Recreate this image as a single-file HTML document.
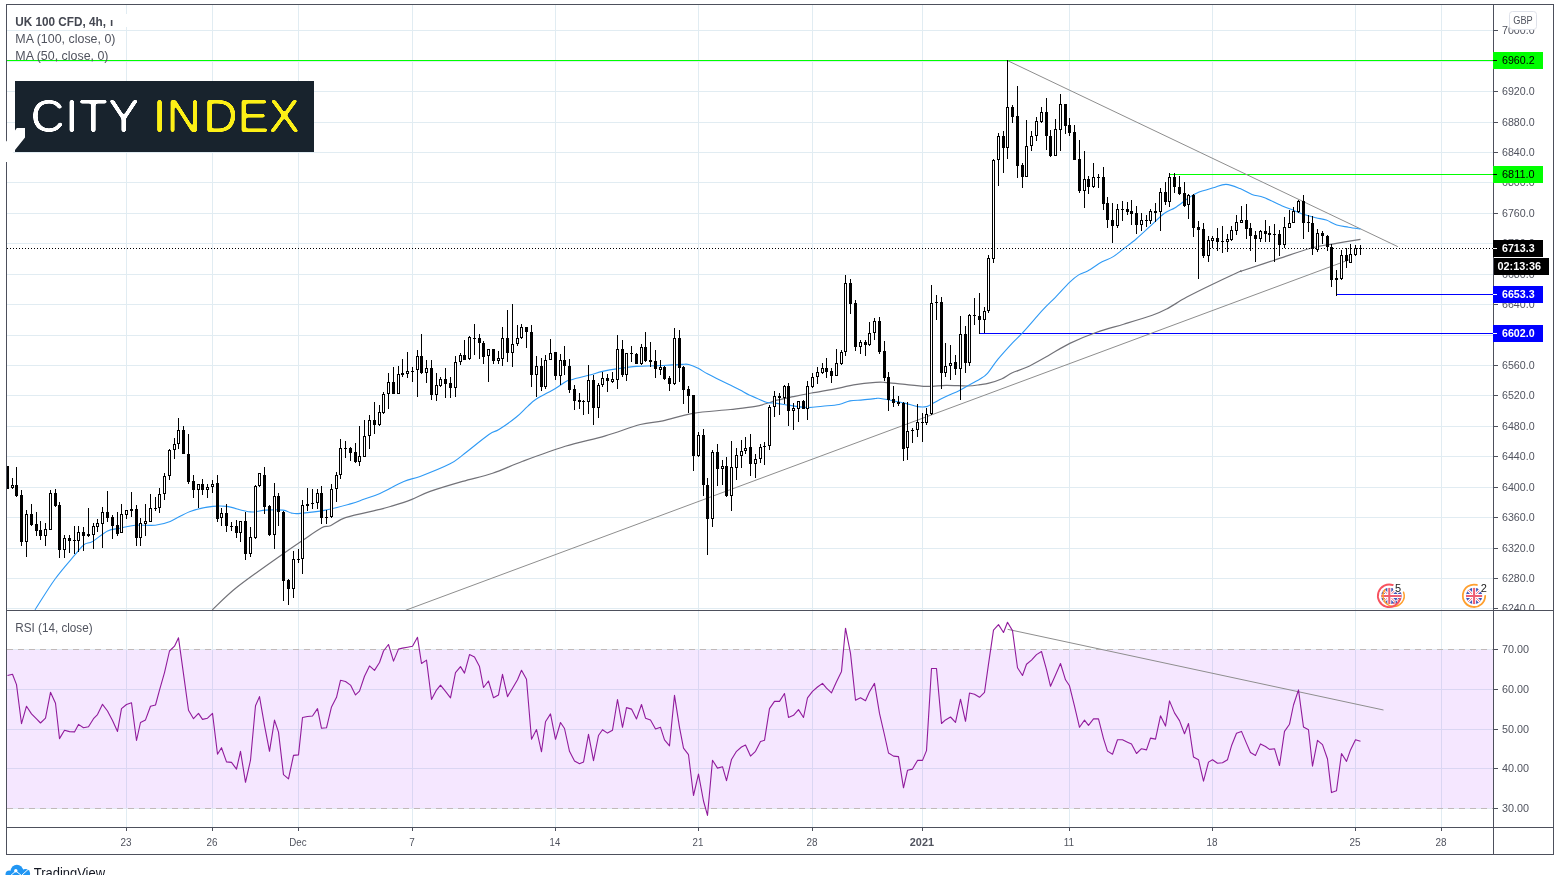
<!DOCTYPE html>
<html lang="en"><head><meta charset="utf-8"><title>UK 100 CFD, 4h</title>
<style>html,body{margin:0;padding:0;background:#fff;overflow:hidden}svg{display:block}</style></head>
<body>
<svg width="1560" height="875" viewBox="0 0 1560 875" font-family="'Liberation Sans', sans-serif">
<rect width="1560" height="875" fill="#fff"/>
<g shape-rendering="crispEdges" fill="#e1ecf2">
<rect x="126" y="5" width="1" height="822"/>
<rect x="212" y="5" width="1" height="822"/>
<rect x="298" y="5" width="1" height="822"/>
<rect x="412" y="5" width="1" height="822"/>
<rect x="555" y="5" width="1" height="822"/>
<rect x="698" y="5" width="1" height="822"/>
<rect x="812" y="5" width="1" height="822"/>
<rect x="922" y="5" width="1" height="822"/>
<rect x="1069" y="5" width="1" height="822"/>
<rect x="1212" y="5" width="1" height="822"/>
<rect x="1355" y="5" width="1" height="822"/>
<rect x="1441" y="5" width="1" height="822"/>
<rect x="7" y="30" width="1486" height="1"/>
<rect x="7" y="61" width="1486" height="1"/>
<rect x="7" y="91" width="1486" height="1"/>
<rect x="7" y="122" width="1486" height="1"/>
<rect x="7" y="152" width="1486" height="1"/>
<rect x="7" y="182" width="1486" height="1"/>
<rect x="7" y="213" width="1486" height="1"/>
<rect x="7" y="243" width="1486" height="1"/>
<rect x="7" y="274" width="1486" height="1"/>
<rect x="7" y="304" width="1486" height="1"/>
<rect x="7" y="335" width="1486" height="1"/>
<rect x="7" y="365" width="1486" height="1"/>
<rect x="7" y="395" width="1486" height="1"/>
<rect x="7" y="426" width="1486" height="1"/>
<rect x="7" y="456" width="1486" height="1"/>
<rect x="7" y="487" width="1486" height="1"/>
<rect x="7" y="517" width="1486" height="1"/>
<rect x="7" y="548" width="1486" height="1"/>
<rect x="7" y="578" width="1486" height="1"/>
<rect x="7" y="608" width="1486" height="1"/>
<rect x="7" y="689" width="1486" height="1"/>
<rect x="7" y="729" width="1486" height="1"/>
<rect x="7" y="768" width="1486" height="1"/>
</g>
<rect x="7" y="649.5" width="1486" height="159" fill="#9915ff" fill-opacity="0.1"/>
<g shape-rendering="crispEdges" fill="#e3eaf4"><rect x="7" y="649" width="1486" height="1"/><rect x="7" y="808" width="1486" height="1"/></g>
<g stroke="#c0b9b9" stroke-width="1" stroke-dasharray="6,5" shape-rendering="crispEdges"><line x1="7" y1="649.5" x2="1493" y2="649.5"/><line x1="7" y1="808.5" x2="1493" y2="808.5"/></g>
<g shape-rendering="crispEdges">
<rect x="7" y="60" width="1486" height="1" fill="#00ff00"/>
<rect x="1169" y="174" width="324" height="1" fill="#00ff00"/>
<rect x="1336" y="294" width="157" height="1" fill="#0000ff"/>
<rect x="979" y="333" width="514" height="1" fill="#0000ff"/>
</g>
<g stroke="#8e8e8e" stroke-width="1" fill="none">
<line x1="1007.5" y1="60.6" x2="1397.9" y2="246.7"/>
<line x1="405.5" y1="610.3" x2="1350.7" y2="259.2"/>
<line x1="1007.6" y1="629.3" x2="1383.5" y2="710"/>
</g>
<clipPath id="mainclip"><rect x="7" y="5" width="1486" height="605"/></clipPath>
<g clip-path="url(#mainclip)">
<path fill="none" stroke="#727278" stroke-width="1.2" stroke-linejoin="round" d="M212.3 609.8C216.6 605.9 226.0 595.8 237.8 586.5C249.6 577.2 272.0 561.6 282.9 553.9C293.8 546.2 296.4 544.6 302.9 540.2C309.4 535.8 317.1 530.1 321.7 527.7C326.3 525.3 326.4 527.4 330.4 525.7C334.3 524.0 337.1 520.3 345.4 517.6C353.7 514.9 372.1 511.3 380.0 509.4C387.9 507.4 387.3 507.5 392.5 505.9C397.7 504.3 405.0 502.0 411.3 499.6C417.6 497.2 421.6 494.4 430.1 491.4C438.7 488.4 452.2 484.4 462.6 481.4C473.0 478.4 482.6 476.6 492.6 473.3C502.6 470.0 510.6 465.8 522.7 461.3C534.8 456.8 551.4 450.6 565.2 446.3C579.0 442.1 592.8 439.4 605.3 435.8C617.8 432.2 630.7 427.0 640.3 424.5C649.9 422.0 654.1 422.7 662.9 420.8C671.7 418.9 681.6 415.2 692.9 413.3C704.1 411.4 720.0 410.7 730.4 409.5C740.8 408.3 748.9 407.5 755.5 406.3C762.1 405.1 766.8 403.4 770.0 402.5C773.2 401.6 771.1 401.7 775.0 400.7C778.9 399.7 787.2 398.0 793.3 396.7C799.4 395.4 804.0 394.4 811.6 393.0C819.2 391.6 832.0 389.5 839.0 388.1C846.0 386.7 847.5 385.8 853.6 384.8C859.7 383.9 870.4 382.8 875.6 382.4C880.8 382.0 880.2 382.1 884.7 382.4C889.2 382.7 895.6 383.5 902.6 384.2C909.6 384.9 919.3 386.2 926.5 386.4C933.7 386.6 939.1 385.4 946.0 385.3C952.9 385.2 962.0 386.1 967.7 386.0C973.4 385.9 976.5 385.2 980.0 384.7C983.5 384.2 985.4 384.1 989.0 383.1C992.6 382.2 997.6 380.7 1001.5 379.0C1005.4 377.3 1008.1 374.6 1012.3 372.7C1016.5 370.8 1020.7 370.1 1026.7 367.3C1032.7 364.5 1041.0 359.7 1048.2 355.7C1055.4 351.7 1061.7 347.3 1069.8 343.4C1077.9 339.5 1087.7 335.5 1096.7 332.3C1105.7 329.1 1114.3 327.0 1123.6 324.2C1132.9 321.4 1145.1 317.8 1152.3 315.3C1159.5 312.8 1161.0 312.0 1166.7 309.0C1172.4 306.0 1178.9 301.4 1186.4 297.3C1193.9 293.2 1202.6 289.0 1211.6 284.7C1220.6 280.4 1235.3 273.6 1240.3 271.3C1241.6 269.0 1240.3 272.9 1241.6 271.0C1247.3 269.1 1262.7 264.0 1274.3 260.2C1285.9 256.4 1301.5 250.7 1311.4 248.0C1321.3 245.3 1325.5 245.2 1333.7 243.8C1341.9 242.4 1356.0 240.1 1360.5 239.4"/>
<path fill="none" stroke="#2f9af5" stroke-width="1.1" stroke-linejoin="round" d="M35.0 609.8C38.4 604.7 48.4 588.2 55.1 579.0C61.8 569.8 70.3 560.4 75.1 554.7C79.9 549.0 81.0 546.9 83.9 544.7C86.8 542.5 88.6 543.7 92.6 541.4C96.5 539.1 103.0 533.1 107.6 530.9C112.2 528.7 115.6 529.2 120.2 528.2C124.8 527.2 129.4 525.7 135.2 525.2C141.0 524.7 149.4 525.8 155.2 525.2C161.0 524.6 164.4 523.7 170.2 521.4C176.0 519.1 183.1 513.9 190.2 511.4C197.3 508.9 206.8 507.2 212.8 506.4C218.9 505.6 220.2 505.5 226.5 506.4C232.8 507.3 243.8 511.3 250.3 511.9C256.8 512.5 259.9 510.4 265.3 510.1C270.7 509.8 278.5 509.6 282.9 510.1C287.3 510.6 288.7 512.6 291.6 513.1C294.5 513.6 294.8 513.9 300.4 513.4C306.0 512.9 317.1 511.7 325.4 510.1C333.7 508.5 344.1 505.6 350.4 503.9C356.7 502.1 358.1 501.4 363.0 499.6C367.9 497.9 373.2 496.4 380.0 493.4C386.8 490.4 397.1 484.2 403.8 481.4C410.5 478.6 412.4 479.3 420.1 476.4C427.8 473.5 443.0 467.4 450.1 463.8C457.2 460.2 456.1 460.0 462.6 455.1C469.1 450.2 482.8 438.8 488.9 434.5C494.9 430.2 494.3 432.4 498.9 429.5C503.5 426.6 511.6 420.9 516.4 417.0C521.2 413.1 524.3 409.3 527.7 406.3C531.1 403.3 532.2 401.7 536.7 398.8C541.2 395.9 550.1 391.6 555.0 388.7C559.9 385.8 562.9 383.0 565.9 381.4C568.9 379.8 569.3 380.3 573.3 379.2C577.3 378.1 584.8 376.3 589.7 375.0C594.6 373.7 597.7 372.5 602.5 371.4C607.3 370.3 612.6 369.4 618.3 368.6C624.0 367.8 630.5 366.9 636.6 366.4C642.7 365.9 648.8 366.1 654.9 365.8C661.0 365.6 668.5 365.1 673.1 364.9C677.7 364.7 679.7 364.5 682.3 364.4C684.9 364.3 686.0 363.8 688.7 364.5C691.4 365.2 695.5 367.0 698.7 368.6C701.9 370.2 703.0 371.5 707.9 374.1C712.8 376.7 722.6 381.4 728.0 384.1C733.4 386.8 736.6 388.3 740.1 390.1C743.6 391.9 744.9 393.0 749.2 395.0C753.6 397.0 761.8 400.8 766.2 402.2C770.6 403.6 771.7 402.6 775.6 403.1C779.5 403.6 784.2 404.6 789.6 405.4C795.0 406.1 802.4 407.5 807.9 407.6C813.4 407.7 817.3 406.7 822.5 406.2C827.7 405.7 834.4 405.4 839.0 404.5C843.6 403.6 846.0 401.7 850.0 400.9C854.0 400.1 858.5 400.3 862.8 399.9C867.1 399.5 873.0 398.8 875.6 398.5C878.2 398.2 876.0 398.0 878.7 398.3C881.4 398.6 887.4 399.7 891.7 400.5C896.0 401.3 900.4 402.1 904.7 403.1C909.1 404.1 914.2 406.0 917.8 406.6C921.4 407.2 924.0 407.2 926.5 406.6C929.0 406.1 929.8 405.0 933.0 403.3C936.2 401.6 941.7 398.7 946.0 396.6C950.3 394.5 955.4 392.5 959.0 390.7C962.6 388.9 964.2 387.8 967.7 385.8C971.2 383.9 976.8 381.0 980.0 379.0C983.2 377.0 984.2 376.9 987.2 373.6C990.2 370.3 993.8 364.3 998.0 359.2C1002.2 354.1 1008.3 347.4 1012.3 343.1C1016.3 338.8 1017.1 338.7 1022.2 333.2C1027.3 327.7 1037.3 315.9 1042.8 309.9C1048.3 303.9 1050.9 301.9 1055.4 297.3C1059.9 292.7 1065.9 285.8 1069.8 282.1C1073.7 278.4 1075.7 276.8 1078.7 274.9C1081.7 273.0 1083.8 273.1 1087.7 270.9C1091.6 268.7 1097.9 264.1 1102.1 261.8C1106.3 259.5 1109.2 259.1 1112.8 256.9C1116.4 254.7 1119.7 251.8 1123.6 248.8C1127.5 245.8 1131.9 242.7 1136.2 239.0C1140.5 235.3 1144.8 231.2 1149.5 226.9C1154.2 222.7 1159.8 216.7 1164.1 213.5C1168.4 210.3 1171.1 210.2 1175.1 207.7C1179.1 205.2 1184.2 200.9 1187.9 198.5C1191.6 196.1 1192.8 194.8 1197.0 193.0C1201.2 191.2 1208.6 189.2 1213.4 187.8C1218.2 186.4 1221.5 184.3 1226.0 184.4C1230.5 184.5 1235.8 186.9 1240.1 188.6C1244.4 190.3 1248.0 193.0 1252.0 194.5C1256.0 196.0 1259.0 195.6 1263.9 197.5C1268.9 199.4 1276.5 203.5 1281.7 205.7C1286.9 207.9 1291.4 209.4 1295.1 210.9C1298.8 212.4 1300.5 213.4 1304.0 214.6C1307.5 215.8 1312.2 216.9 1315.9 217.8C1319.6 218.7 1322.8 218.9 1326.3 220.1C1329.8 221.3 1333.0 223.8 1336.7 225.0C1340.4 226.2 1344.6 226.5 1348.6 227.2C1352.6 227.9 1358.5 228.7 1360.5 229.0"/>
</g>
<line x1="7" y1="248.5" x2="1493" y2="248.5" stroke="#000" stroke-width="1" stroke-dasharray="1,2" shape-rendering="crispEdges"/>
<g shape-rendering="crispEdges">
<rect x="7" y="466" width="1" height="23" fill="#000"/>
<rect x="6" y="466" width="3" height="23" fill="#000"/>
<rect x="12" y="478" width="1" height="11" fill="#000"/>
<rect x="11" y="485" width="3" height="3" fill="#000"/>
<rect x="12" y="486" width="1" height="1" fill="#fff"/>
<rect x="16" y="467" width="1" height="30" fill="#000"/>
<rect x="15" y="485" width="3" height="11" fill="#000"/>
<rect x="21" y="490" width="1" height="56" fill="#000"/>
<rect x="20" y="495" width="3" height="47" fill="#000"/>
<rect x="26" y="510" width="1" height="47" fill="#000"/>
<rect x="25" y="514" width="3" height="28" fill="#000"/>
<rect x="26" y="515" width="1" height="26" fill="#fff"/>
<rect x="31" y="504" width="1" height="22" fill="#000"/>
<rect x="30" y="514" width="3" height="11" fill="#000"/>
<rect x="36" y="512" width="1" height="24" fill="#000"/>
<rect x="35" y="524" width="3" height="7" fill="#000"/>
<rect x="40" y="521" width="1" height="19" fill="#000"/>
<rect x="39" y="530" width="3" height="6" fill="#000"/>
<rect x="45" y="523" width="1" height="23" fill="#000"/>
<rect x="44" y="529" width="3" height="7" fill="#000"/>
<rect x="45" y="530" width="1" height="5" fill="#fff"/>
<rect x="50" y="490" width="1" height="40" fill="#000"/>
<rect x="49" y="493" width="3" height="37" fill="#000"/>
<rect x="50" y="494" width="1" height="35" fill="#fff"/>
<rect x="55" y="489" width="1" height="18" fill="#000"/>
<rect x="54" y="493" width="3" height="13" fill="#000"/>
<rect x="59" y="502" width="1" height="56" fill="#000"/>
<rect x="58" y="505" width="3" height="45" fill="#000"/>
<rect x="64" y="535" width="1" height="23" fill="#000"/>
<rect x="63" y="538" width="3" height="12" fill="#000"/>
<rect x="64" y="539" width="1" height="10" fill="#fff"/>
<rect x="69" y="535" width="1" height="18" fill="#000"/>
<rect x="68" y="538" width="3" height="3" fill="#000"/>
<rect x="74" y="526" width="1" height="28" fill="#000"/>
<rect x="73" y="540" width="3" height="1" fill="#000"/>
<rect x="78" y="526" width="1" height="26" fill="#000"/>
<rect x="77" y="532" width="3" height="9" fill="#000"/>
<rect x="78" y="533" width="1" height="7" fill="#fff"/>
<rect x="83" y="527" width="1" height="24" fill="#000"/>
<rect x="82" y="532" width="3" height="4" fill="#000"/>
<rect x="88" y="508" width="1" height="29" fill="#000"/>
<rect x="87" y="534" width="3" height="2" fill="#000"/>
<rect x="93" y="523" width="1" height="26" fill="#000"/>
<rect x="92" y="526" width="3" height="9" fill="#000"/>
<rect x="93" y="527" width="1" height="7" fill="#fff"/>
<rect x="97" y="519" width="1" height="13" fill="#000"/>
<rect x="96" y="523" width="3" height="4" fill="#000"/>
<rect x="97" y="524" width="1" height="2" fill="#fff"/>
<rect x="102" y="507" width="1" height="41" fill="#000"/>
<rect x="101" y="512" width="3" height="12" fill="#000"/>
<rect x="102" y="513" width="1" height="10" fill="#fff"/>
<rect x="107" y="491" width="1" height="31" fill="#000"/>
<rect x="106" y="512" width="3" height="6" fill="#000"/>
<rect x="112" y="515" width="1" height="24" fill="#000"/>
<rect x="111" y="517" width="3" height="9" fill="#000"/>
<rect x="117" y="512" width="1" height="24" fill="#000"/>
<rect x="116" y="525" width="3" height="9" fill="#000"/>
<rect x="121" y="504" width="1" height="29" fill="#000"/>
<rect x="120" y="514" width="3" height="19" fill="#000"/>
<rect x="121" y="515" width="1" height="17" fill="#fff"/>
<rect x="126" y="510" width="1" height="9" fill="#000"/>
<rect x="125" y="510" width="3" height="5" fill="#000"/>
<rect x="126" y="511" width="1" height="3" fill="#fff"/>
<rect x="131" y="492" width="1" height="25" fill="#000"/>
<rect x="130" y="509" width="3" height="2" fill="#000"/>
<rect x="136" y="505" width="1" height="41" fill="#000"/>
<rect x="135" y="509" width="3" height="29" fill="#000"/>
<rect x="140" y="518" width="1" height="28" fill="#000"/>
<rect x="139" y="523" width="3" height="15" fill="#000"/>
<rect x="140" y="524" width="1" height="13" fill="#fff"/>
<rect x="145" y="504" width="1" height="32" fill="#000"/>
<rect x="144" y="521" width="3" height="3" fill="#000"/>
<rect x="145" y="522" width="1" height="1" fill="#fff"/>
<rect x="150" y="494" width="1" height="28" fill="#000"/>
<rect x="149" y="508" width="3" height="14" fill="#000"/>
<rect x="150" y="509" width="1" height="12" fill="#fff"/>
<rect x="155" y="497" width="1" height="14" fill="#000"/>
<rect x="154" y="508" width="3" height="1" fill="#000"/>
<rect x="159" y="488" width="1" height="25" fill="#000"/>
<rect x="158" y="494" width="3" height="14" fill="#000"/>
<rect x="159" y="495" width="1" height="12" fill="#fff"/>
<rect x="164" y="473" width="1" height="27" fill="#000"/>
<rect x="163" y="476" width="3" height="18" fill="#000"/>
<rect x="164" y="477" width="1" height="16" fill="#fff"/>
<rect x="169" y="449" width="1" height="31" fill="#000"/>
<rect x="168" y="450" width="3" height="26" fill="#000"/>
<rect x="169" y="451" width="1" height="24" fill="#fff"/>
<rect x="174" y="438" width="1" height="21" fill="#000"/>
<rect x="173" y="444" width="3" height="6" fill="#000"/>
<rect x="174" y="445" width="1" height="4" fill="#fff"/>
<rect x="178" y="418" width="1" height="31" fill="#000"/>
<rect x="177" y="430" width="3" height="14" fill="#000"/>
<rect x="178" y="431" width="1" height="12" fill="#fff"/>
<rect x="183" y="426" width="1" height="28" fill="#000"/>
<rect x="182" y="430" width="3" height="24" fill="#000"/>
<rect x="188" y="434" width="1" height="50" fill="#000"/>
<rect x="187" y="454" width="3" height="28" fill="#000"/>
<rect x="193" y="475" width="1" height="23" fill="#000"/>
<rect x="192" y="481" width="3" height="9" fill="#000"/>
<rect x="198" y="484" width="1" height="24" fill="#000"/>
<rect x="197" y="484" width="3" height="6" fill="#000"/>
<rect x="198" y="485" width="1" height="4" fill="#fff"/>
<rect x="202" y="479" width="1" height="16" fill="#000"/>
<rect x="201" y="484" width="3" height="6" fill="#000"/>
<rect x="207" y="484" width="1" height="14" fill="#000"/>
<rect x="206" y="487" width="3" height="3" fill="#000"/>
<rect x="207" y="488" width="1" height="1" fill="#fff"/>
<rect x="212" y="480" width="1" height="13" fill="#000"/>
<rect x="211" y="484" width="3" height="3" fill="#000"/>
<rect x="212" y="485" width="1" height="1" fill="#fff"/>
<rect x="217" y="475" width="1" height="47" fill="#000"/>
<rect x="216" y="483" width="3" height="36" fill="#000"/>
<rect x="221" y="508" width="1" height="18" fill="#000"/>
<rect x="220" y="513" width="3" height="5" fill="#000"/>
<rect x="221" y="514" width="1" height="3" fill="#fff"/>
<rect x="226" y="504" width="1" height="28" fill="#000"/>
<rect x="225" y="513" width="3" height="13" fill="#000"/>
<rect x="231" y="522" width="1" height="9" fill="#000"/>
<rect x="230" y="526" width="3" height="1" fill="#000"/>
<rect x="236" y="520" width="1" height="18" fill="#000"/>
<rect x="235" y="526" width="3" height="7" fill="#000"/>
<rect x="240" y="521" width="1" height="21" fill="#000"/>
<rect x="239" y="521" width="3" height="12" fill="#000"/>
<rect x="240" y="522" width="1" height="10" fill="#fff"/>
<rect x="245" y="512" width="1" height="48" fill="#000"/>
<rect x="244" y="521" width="3" height="33" fill="#000"/>
<rect x="250" y="527" width="1" height="30" fill="#000"/>
<rect x="249" y="537" width="3" height="17" fill="#000"/>
<rect x="250" y="538" width="1" height="15" fill="#fff"/>
<rect x="255" y="485" width="1" height="54" fill="#000"/>
<rect x="254" y="486" width="3" height="52" fill="#000"/>
<rect x="255" y="487" width="1" height="50" fill="#fff"/>
<rect x="259" y="473" width="1" height="14" fill="#000"/>
<rect x="258" y="473" width="3" height="13" fill="#000"/>
<rect x="259" y="474" width="1" height="11" fill="#fff"/>
<rect x="264" y="467" width="1" height="47" fill="#000"/>
<rect x="263" y="475" width="3" height="32" fill="#000"/>
<rect x="269" y="505" width="1" height="31" fill="#000"/>
<rect x="268" y="506" width="3" height="29" fill="#000"/>
<rect x="274" y="483" width="1" height="66" fill="#000"/>
<rect x="273" y="496" width="3" height="39" fill="#000"/>
<rect x="274" y="497" width="1" height="37" fill="#fff"/>
<rect x="278" y="493" width="1" height="33" fill="#000"/>
<rect x="277" y="496" width="3" height="16" fill="#000"/>
<rect x="283" y="511" width="1" height="90" fill="#000"/>
<rect x="282" y="512" width="3" height="69" fill="#000"/>
<rect x="288" y="579" width="1" height="26" fill="#000"/>
<rect x="287" y="580" width="3" height="9" fill="#000"/>
<rect x="293" y="551" width="1" height="47" fill="#000"/>
<rect x="292" y="559" width="3" height="30" fill="#000"/>
<rect x="293" y="560" width="1" height="28" fill="#fff"/>
<rect x="298" y="549" width="1" height="14" fill="#000"/>
<rect x="297" y="559" width="3" height="1" fill="#000"/>
<rect x="302" y="500" width="1" height="74" fill="#000"/>
<rect x="301" y="505" width="3" height="54" fill="#000"/>
<rect x="302" y="506" width="1" height="52" fill="#fff"/>
<rect x="307" y="488" width="1" height="23" fill="#000"/>
<rect x="306" y="504" width="3" height="2" fill="#000"/>
<rect x="312" y="489" width="1" height="20" fill="#000"/>
<rect x="311" y="503" width="3" height="1" fill="#000"/>
<rect x="317" y="489" width="1" height="20" fill="#000"/>
<rect x="316" y="493" width="3" height="10" fill="#000"/>
<rect x="317" y="494" width="1" height="8" fill="#fff"/>
<rect x="321" y="486" width="1" height="38" fill="#000"/>
<rect x="320" y="493" width="3" height="25" fill="#000"/>
<rect x="326" y="510" width="1" height="14" fill="#000"/>
<rect x="325" y="517" width="3" height="1" fill="#000"/>
<rect x="331" y="484" width="1" height="34" fill="#000"/>
<rect x="330" y="489" width="3" height="28" fill="#000"/>
<rect x="331" y="490" width="1" height="26" fill="#fff"/>
<rect x="336" y="472" width="1" height="30" fill="#000"/>
<rect x="335" y="475" width="3" height="14" fill="#000"/>
<rect x="336" y="476" width="1" height="12" fill="#fff"/>
<rect x="340" y="439" width="1" height="40" fill="#000"/>
<rect x="339" y="448" width="3" height="27" fill="#000"/>
<rect x="340" y="449" width="1" height="25" fill="#fff"/>
<rect x="345" y="441" width="1" height="17" fill="#000"/>
<rect x="344" y="448" width="3" height="1" fill="#000"/>
<rect x="350" y="447" width="1" height="14" fill="#000"/>
<rect x="349" y="448" width="3" height="5" fill="#000"/>
<rect x="355" y="443" width="1" height="20" fill="#000"/>
<rect x="354" y="452" width="3" height="10" fill="#000"/>
<rect x="359" y="426" width="1" height="40" fill="#000"/>
<rect x="358" y="456" width="3" height="6" fill="#000"/>
<rect x="359" y="457" width="1" height="4" fill="#fff"/>
<rect x="364" y="420" width="1" height="37" fill="#000"/>
<rect x="363" y="436" width="3" height="21" fill="#000"/>
<rect x="364" y="437" width="1" height="19" fill="#fff"/>
<rect x="369" y="415" width="1" height="34" fill="#000"/>
<rect x="368" y="420" width="3" height="16" fill="#000"/>
<rect x="369" y="421" width="1" height="14" fill="#fff"/>
<rect x="374" y="402" width="1" height="32" fill="#000"/>
<rect x="373" y="420" width="3" height="5" fill="#000"/>
<rect x="379" y="405" width="1" height="21" fill="#000"/>
<rect x="378" y="412" width="3" height="13" fill="#000"/>
<rect x="379" y="413" width="1" height="11" fill="#fff"/>
<rect x="383" y="392" width="1" height="22" fill="#000"/>
<rect x="382" y="394" width="3" height="19" fill="#000"/>
<rect x="383" y="395" width="1" height="17" fill="#fff"/>
<rect x="388" y="373" width="1" height="36" fill="#000"/>
<rect x="387" y="382" width="3" height="12" fill="#000"/>
<rect x="388" y="383" width="1" height="10" fill="#fff"/>
<rect x="393" y="367" width="1" height="27" fill="#000"/>
<rect x="392" y="382" width="3" height="12" fill="#000"/>
<rect x="398" y="366" width="1" height="28" fill="#000"/>
<rect x="397" y="374" width="3" height="20" fill="#000"/>
<rect x="398" y="375" width="1" height="18" fill="#fff"/>
<rect x="402" y="359" width="1" height="18" fill="#000"/>
<rect x="401" y="373" width="3" height="2" fill="#000"/>
<rect x="407" y="352" width="1" height="26" fill="#000"/>
<rect x="406" y="371" width="3" height="3" fill="#000"/>
<rect x="407" y="372" width="1" height="1" fill="#fff"/>
<rect x="412" y="367" width="1" height="15" fill="#000"/>
<rect x="411" y="371" width="3" height="1" fill="#000"/>
<rect x="417" y="350" width="1" height="47" fill="#000"/>
<rect x="416" y="356" width="3" height="14" fill="#000"/>
<rect x="417" y="357" width="1" height="12" fill="#fff"/>
<rect x="421" y="334" width="1" height="40" fill="#000"/>
<rect x="420" y="356" width="3" height="17" fill="#000"/>
<rect x="426" y="360" width="1" height="23" fill="#000"/>
<rect x="425" y="368" width="3" height="5" fill="#000"/>
<rect x="426" y="369" width="1" height="3" fill="#fff"/>
<rect x="431" y="360" width="1" height="40" fill="#000"/>
<rect x="430" y="368" width="3" height="27" fill="#000"/>
<rect x="436" y="373" width="1" height="28" fill="#000"/>
<rect x="435" y="385" width="3" height="10" fill="#000"/>
<rect x="436" y="386" width="1" height="8" fill="#fff"/>
<rect x="440" y="377" width="1" height="10" fill="#000"/>
<rect x="439" y="379" width="3" height="7" fill="#000"/>
<rect x="440" y="380" width="1" height="5" fill="#fff"/>
<rect x="445" y="368" width="1" height="30" fill="#000"/>
<rect x="444" y="379" width="3" height="5" fill="#000"/>
<rect x="450" y="377" width="1" height="21" fill="#000"/>
<rect x="449" y="383" width="3" height="5" fill="#000"/>
<rect x="455" y="356" width="1" height="41" fill="#000"/>
<rect x="454" y="362" width="3" height="26" fill="#000"/>
<rect x="455" y="363" width="1" height="24" fill="#fff"/>
<rect x="460" y="353" width="1" height="12" fill="#000"/>
<rect x="459" y="355" width="3" height="7" fill="#000"/>
<rect x="460" y="356" width="1" height="5" fill="#fff"/>
<rect x="464" y="340" width="1" height="20" fill="#000"/>
<rect x="463" y="355" width="3" height="5" fill="#000"/>
<rect x="469" y="336" width="1" height="24" fill="#000"/>
<rect x="468" y="337" width="3" height="22" fill="#000"/>
<rect x="469" y="338" width="1" height="20" fill="#fff"/>
<rect x="474" y="324" width="1" height="31" fill="#000"/>
<rect x="473" y="338" width="3" height="1" fill="#000"/>
<rect x="479" y="334" width="1" height="25" fill="#000"/>
<rect x="478" y="338" width="3" height="5" fill="#000"/>
<rect x="483" y="341" width="1" height="23" fill="#000"/>
<rect x="482" y="343" width="3" height="14" fill="#000"/>
<rect x="488" y="349" width="1" height="33" fill="#000"/>
<rect x="487" y="349" width="3" height="7" fill="#000"/>
<rect x="488" y="350" width="1" height="5" fill="#fff"/>
<rect x="493" y="349" width="1" height="15" fill="#000"/>
<rect x="492" y="349" width="3" height="12" fill="#000"/>
<rect x="498" y="351" width="1" height="13" fill="#000"/>
<rect x="497" y="358" width="3" height="3" fill="#000"/>
<rect x="498" y="359" width="1" height="1" fill="#fff"/>
<rect x="502" y="327" width="1" height="39" fill="#000"/>
<rect x="501" y="338" width="3" height="21" fill="#000"/>
<rect x="502" y="339" width="1" height="19" fill="#fff"/>
<rect x="507" y="310" width="1" height="52" fill="#000"/>
<rect x="506" y="338" width="3" height="15" fill="#000"/>
<rect x="512" y="304" width="1" height="63" fill="#000"/>
<rect x="511" y="344" width="3" height="9" fill="#000"/>
<rect x="512" y="345" width="1" height="7" fill="#fff"/>
<rect x="517" y="325" width="1" height="21" fill="#000"/>
<rect x="516" y="338" width="3" height="6" fill="#000"/>
<rect x="517" y="339" width="1" height="4" fill="#fff"/>
<rect x="521" y="324" width="1" height="15" fill="#000"/>
<rect x="520" y="327" width="3" height="11" fill="#000"/>
<rect x="521" y="328" width="1" height="9" fill="#fff"/>
<rect x="526" y="327" width="1" height="21" fill="#000"/>
<rect x="525" y="327" width="3" height="5" fill="#000"/>
<rect x="531" y="325" width="1" height="62" fill="#000"/>
<rect x="530" y="332" width="3" height="43" fill="#000"/>
<rect x="536" y="356" width="1" height="41" fill="#000"/>
<rect x="535" y="366" width="3" height="9" fill="#000"/>
<rect x="536" y="367" width="1" height="7" fill="#fff"/>
<rect x="541" y="358" width="1" height="33" fill="#000"/>
<rect x="540" y="366" width="3" height="21" fill="#000"/>
<rect x="545" y="355" width="1" height="34" fill="#000"/>
<rect x="544" y="360" width="3" height="27" fill="#000"/>
<rect x="545" y="361" width="1" height="25" fill="#fff"/>
<rect x="550" y="339" width="1" height="21" fill="#000"/>
<rect x="549" y="353" width="3" height="7" fill="#000"/>
<rect x="550" y="354" width="1" height="5" fill="#fff"/>
<rect x="555" y="352" width="1" height="28" fill="#000"/>
<rect x="554" y="352" width="3" height="24" fill="#000"/>
<rect x="560" y="354" width="1" height="31" fill="#000"/>
<rect x="559" y="360" width="3" height="16" fill="#000"/>
<rect x="560" y="361" width="1" height="14" fill="#fff"/>
<rect x="564" y="346" width="1" height="29" fill="#000"/>
<rect x="563" y="360" width="3" height="6" fill="#000"/>
<rect x="569" y="359" width="1" height="34" fill="#000"/>
<rect x="568" y="366" width="3" height="24" fill="#000"/>
<rect x="574" y="385" width="1" height="25" fill="#000"/>
<rect x="573" y="389" width="3" height="12" fill="#000"/>
<rect x="579" y="393" width="1" height="16" fill="#000"/>
<rect x="578" y="400" width="3" height="2" fill="#000"/>
<rect x="583" y="400" width="1" height="15" fill="#000"/>
<rect x="582" y="401" width="3" height="1" fill="#000"/>
<rect x="588" y="365" width="1" height="49" fill="#000"/>
<rect x="587" y="380" width="3" height="22" fill="#000"/>
<rect x="588" y="381" width="1" height="20" fill="#fff"/>
<rect x="593" y="375" width="1" height="50" fill="#000"/>
<rect x="592" y="380" width="3" height="28" fill="#000"/>
<rect x="598" y="383" width="1" height="35" fill="#000"/>
<rect x="597" y="385" width="3" height="23" fill="#000"/>
<rect x="598" y="386" width="1" height="21" fill="#fff"/>
<rect x="602" y="372" width="1" height="15" fill="#000"/>
<rect x="601" y="378" width="3" height="7" fill="#000"/>
<rect x="602" y="379" width="1" height="5" fill="#fff"/>
<rect x="607" y="374" width="1" height="18" fill="#000"/>
<rect x="606" y="378" width="3" height="3" fill="#000"/>
<rect x="612" y="372" width="1" height="11" fill="#000"/>
<rect x="611" y="379" width="3" height="3" fill="#000"/>
<rect x="612" y="380" width="1" height="1" fill="#fff"/>
<rect x="617" y="335" width="1" height="54" fill="#000"/>
<rect x="616" y="349" width="3" height="31" fill="#000"/>
<rect x="617" y="350" width="1" height="29" fill="#fff"/>
<rect x="622" y="340" width="1" height="37" fill="#000"/>
<rect x="621" y="349" width="3" height="26" fill="#000"/>
<rect x="626" y="353" width="1" height="28" fill="#000"/>
<rect x="625" y="353" width="3" height="22" fill="#000"/>
<rect x="626" y="354" width="1" height="20" fill="#fff"/>
<rect x="631" y="346" width="1" height="16" fill="#000"/>
<rect x="630" y="353" width="3" height="1" fill="#000"/>
<rect x="636" y="353" width="1" height="11" fill="#000"/>
<rect x="635" y="354" width="3" height="10" fill="#000"/>
<rect x="641" y="344" width="1" height="21" fill="#000"/>
<rect x="640" y="347" width="3" height="17" fill="#000"/>
<rect x="641" y="348" width="1" height="15" fill="#fff"/>
<rect x="645" y="332" width="1" height="30" fill="#000"/>
<rect x="644" y="347" width="3" height="14" fill="#000"/>
<rect x="650" y="342" width="1" height="25" fill="#000"/>
<rect x="649" y="360" width="3" height="2" fill="#000"/>
<rect x="655" y="350" width="1" height="28" fill="#000"/>
<rect x="654" y="361" width="3" height="8" fill="#000"/>
<rect x="660" y="360" width="1" height="15" fill="#000"/>
<rect x="659" y="367" width="3" height="3" fill="#000"/>
<rect x="660" y="368" width="1" height="1" fill="#fff"/>
<rect x="664" y="366" width="1" height="14" fill="#000"/>
<rect x="663" y="367" width="3" height="12" fill="#000"/>
<rect x="669" y="376" width="1" height="15" fill="#000"/>
<rect x="668" y="378" width="3" height="6" fill="#000"/>
<rect x="674" y="328" width="1" height="57" fill="#000"/>
<rect x="673" y="338" width="3" height="46" fill="#000"/>
<rect x="674" y="339" width="1" height="44" fill="#fff"/>
<rect x="679" y="330" width="1" height="52" fill="#000"/>
<rect x="678" y="338" width="3" height="30" fill="#000"/>
<rect x="683" y="366" width="1" height="38" fill="#000"/>
<rect x="682" y="367" width="3" height="23" fill="#000"/>
<rect x="688" y="386" width="1" height="27" fill="#000"/>
<rect x="687" y="389" width="3" height="7" fill="#000"/>
<rect x="693" y="395" width="1" height="76" fill="#000"/>
<rect x="692" y="395" width="3" height="61" fill="#000"/>
<rect x="698" y="432" width="1" height="25" fill="#000"/>
<rect x="697" y="435" width="3" height="21" fill="#000"/>
<rect x="698" y="436" width="1" height="19" fill="#fff"/>
<rect x="703" y="429" width="1" height="67" fill="#000"/>
<rect x="702" y="435" width="3" height="50" fill="#000"/>
<rect x="707" y="478" width="1" height="77" fill="#000"/>
<rect x="706" y="485" width="3" height="34" fill="#000"/>
<rect x="712" y="450" width="1" height="77" fill="#000"/>
<rect x="711" y="452" width="3" height="67" fill="#000"/>
<rect x="712" y="453" width="1" height="65" fill="#fff"/>
<rect x="717" y="444" width="1" height="42" fill="#000"/>
<rect x="716" y="452" width="3" height="17" fill="#000"/>
<rect x="722" y="460" width="1" height="25" fill="#000"/>
<rect x="721" y="466" width="3" height="3" fill="#000"/>
<rect x="722" y="467" width="1" height="1" fill="#fff"/>
<rect x="726" y="457" width="1" height="40" fill="#000"/>
<rect x="725" y="466" width="3" height="30" fill="#000"/>
<rect x="731" y="441" width="1" height="70" fill="#000"/>
<rect x="730" y="467" width="3" height="29" fill="#000"/>
<rect x="731" y="468" width="1" height="27" fill="#fff"/>
<rect x="736" y="448" width="1" height="32" fill="#000"/>
<rect x="735" y="455" width="3" height="13" fill="#000"/>
<rect x="736" y="456" width="1" height="11" fill="#fff"/>
<rect x="741" y="440" width="1" height="28" fill="#000"/>
<rect x="740" y="451" width="3" height="5" fill="#000"/>
<rect x="741" y="452" width="1" height="3" fill="#fff"/>
<rect x="745" y="437" width="1" height="17" fill="#000"/>
<rect x="744" y="448" width="3" height="3" fill="#000"/>
<rect x="745" y="449" width="1" height="1" fill="#fff"/>
<rect x="750" y="434" width="1" height="42" fill="#000"/>
<rect x="749" y="447" width="3" height="17" fill="#000"/>
<rect x="755" y="454" width="1" height="24" fill="#000"/>
<rect x="754" y="459" width="3" height="5" fill="#000"/>
<rect x="755" y="460" width="1" height="3" fill="#fff"/>
<rect x="760" y="444" width="1" height="19" fill="#000"/>
<rect x="759" y="447" width="3" height="12" fill="#000"/>
<rect x="760" y="448" width="1" height="10" fill="#fff"/>
<rect x="764" y="442" width="1" height="23" fill="#000"/>
<rect x="763" y="446" width="3" height="1" fill="#000"/>
<rect x="769" y="405" width="1" height="45" fill="#000"/>
<rect x="768" y="407" width="3" height="39" fill="#000"/>
<rect x="769" y="408" width="1" height="37" fill="#fff"/>
<rect x="774" y="391" width="1" height="26" fill="#000"/>
<rect x="773" y="396" width="3" height="11" fill="#000"/>
<rect x="774" y="397" width="1" height="9" fill="#fff"/>
<rect x="779" y="393" width="1" height="22" fill="#000"/>
<rect x="778" y="396" width="3" height="2" fill="#000"/>
<rect x="784" y="385" width="1" height="19" fill="#000"/>
<rect x="783" y="386" width="3" height="12" fill="#000"/>
<rect x="784" y="387" width="1" height="10" fill="#fff"/>
<rect x="788" y="383" width="1" height="43" fill="#000"/>
<rect x="787" y="386" width="3" height="25" fill="#000"/>
<rect x="793" y="403" width="1" height="27" fill="#000"/>
<rect x="792" y="408" width="3" height="3" fill="#000"/>
<rect x="793" y="409" width="1" height="1" fill="#fff"/>
<rect x="798" y="401" width="1" height="21" fill="#000"/>
<rect x="797" y="401" width="3" height="8" fill="#000"/>
<rect x="798" y="402" width="1" height="6" fill="#fff"/>
<rect x="803" y="400" width="1" height="9" fill="#000"/>
<rect x="802" y="401" width="3" height="8" fill="#000"/>
<rect x="807" y="381" width="1" height="39" fill="#000"/>
<rect x="806" y="386" width="3" height="23" fill="#000"/>
<rect x="807" y="387" width="1" height="21" fill="#fff"/>
<rect x="812" y="373" width="1" height="15" fill="#000"/>
<rect x="811" y="377" width="3" height="10" fill="#000"/>
<rect x="812" y="378" width="1" height="8" fill="#fff"/>
<rect x="817" y="367" width="1" height="17" fill="#000"/>
<rect x="816" y="372" width="3" height="5" fill="#000"/>
<rect x="817" y="373" width="1" height="3" fill="#fff"/>
<rect x="822" y="363" width="1" height="11" fill="#000"/>
<rect x="821" y="368" width="3" height="5" fill="#000"/>
<rect x="822" y="369" width="1" height="3" fill="#fff"/>
<rect x="826" y="358" width="1" height="20" fill="#000"/>
<rect x="825" y="368" width="3" height="4" fill="#000"/>
<rect x="831" y="368" width="1" height="15" fill="#000"/>
<rect x="830" y="371" width="3" height="5" fill="#000"/>
<rect x="836" y="349" width="1" height="27" fill="#000"/>
<rect x="835" y="363" width="3" height="13" fill="#000"/>
<rect x="836" y="364" width="1" height="11" fill="#fff"/>
<rect x="841" y="350" width="1" height="15" fill="#000"/>
<rect x="840" y="352" width="3" height="12" fill="#000"/>
<rect x="841" y="353" width="1" height="10" fill="#fff"/>
<rect x="845" y="275" width="1" height="81" fill="#000"/>
<rect x="844" y="283" width="3" height="69" fill="#000"/>
<rect x="845" y="284" width="1" height="67" fill="#fff"/>
<rect x="850" y="279" width="1" height="35" fill="#000"/>
<rect x="849" y="283" width="3" height="21" fill="#000"/>
<rect x="855" y="300" width="1" height="51" fill="#000"/>
<rect x="854" y="303" width="3" height="44" fill="#000"/>
<rect x="860" y="340" width="1" height="14" fill="#000"/>
<rect x="859" y="342" width="3" height="5" fill="#000"/>
<rect x="860" y="343" width="1" height="3" fill="#fff"/>
<rect x="865" y="340" width="1" height="16" fill="#000"/>
<rect x="864" y="342" width="3" height="3" fill="#000"/>
<rect x="869" y="322" width="1" height="24" fill="#000"/>
<rect x="868" y="333" width="3" height="12" fill="#000"/>
<rect x="869" y="334" width="1" height="10" fill="#fff"/>
<rect x="874" y="318" width="1" height="22" fill="#000"/>
<rect x="873" y="321" width="3" height="12" fill="#000"/>
<rect x="874" y="322" width="1" height="10" fill="#fff"/>
<rect x="879" y="317" width="1" height="37" fill="#000"/>
<rect x="878" y="321" width="3" height="31" fill="#000"/>
<rect x="884" y="341" width="1" height="40" fill="#000"/>
<rect x="883" y="351" width="3" height="27" fill="#000"/>
<rect x="888" y="372" width="1" height="39" fill="#000"/>
<rect x="887" y="377" width="3" height="23" fill="#000"/>
<rect x="893" y="386" width="1" height="21" fill="#000"/>
<rect x="892" y="399" width="3" height="4" fill="#000"/>
<rect x="898" y="396" width="1" height="10" fill="#000"/>
<rect x="897" y="402" width="3" height="2" fill="#000"/>
<rect x="903" y="402" width="1" height="59" fill="#000"/>
<rect x="902" y="403" width="3" height="46" fill="#000"/>
<rect x="907" y="402" width="1" height="58" fill="#000"/>
<rect x="906" y="431" width="3" height="17" fill="#000"/>
<rect x="907" y="432" width="1" height="15" fill="#fff"/>
<rect x="912" y="428" width="1" height="15" fill="#000"/>
<rect x="911" y="430" width="3" height="1" fill="#000"/>
<rect x="917" y="404" width="1" height="33" fill="#000"/>
<rect x="916" y="422" width="3" height="8" fill="#000"/>
<rect x="917" y="423" width="1" height="6" fill="#fff"/>
<rect x="922" y="413" width="1" height="29" fill="#000"/>
<rect x="921" y="422" width="3" height="1" fill="#000"/>
<rect x="926" y="408" width="1" height="17" fill="#000"/>
<rect x="925" y="414" width="3" height="9" fill="#000"/>
<rect x="926" y="415" width="1" height="7" fill="#fff"/>
<rect x="931" y="285" width="1" height="130" fill="#000"/>
<rect x="930" y="303" width="3" height="111" fill="#000"/>
<rect x="931" y="304" width="1" height="109" fill="#fff"/>
<rect x="936" y="295" width="1" height="25" fill="#000"/>
<rect x="935" y="302" width="3" height="1" fill="#000"/>
<rect x="941" y="297" width="1" height="92" fill="#000"/>
<rect x="940" y="302" width="3" height="71" fill="#000"/>
<rect x="945" y="343" width="1" height="34" fill="#000"/>
<rect x="944" y="366" width="3" height="7" fill="#000"/>
<rect x="945" y="367" width="1" height="5" fill="#fff"/>
<rect x="950" y="345" width="1" height="35" fill="#000"/>
<rect x="949" y="363" width="3" height="3" fill="#000"/>
<rect x="950" y="364" width="1" height="1" fill="#fff"/>
<rect x="955" y="355" width="1" height="20" fill="#000"/>
<rect x="954" y="362" width="3" height="7" fill="#000"/>
<rect x="960" y="316" width="1" height="84" fill="#000"/>
<rect x="959" y="334" width="3" height="35" fill="#000"/>
<rect x="960" y="335" width="1" height="33" fill="#fff"/>
<rect x="965" y="326" width="1" height="47" fill="#000"/>
<rect x="964" y="334" width="3" height="29" fill="#000"/>
<rect x="969" y="314" width="1" height="52" fill="#000"/>
<rect x="968" y="315" width="3" height="48" fill="#000"/>
<rect x="969" y="316" width="1" height="46" fill="#fff"/>
<rect x="974" y="298" width="1" height="27" fill="#000"/>
<rect x="973" y="315" width="3" height="1" fill="#000"/>
<rect x="979" y="293" width="1" height="41" fill="#000"/>
<rect x="978" y="316" width="3" height="4" fill="#000"/>
<rect x="984" y="307" width="1" height="26" fill="#000"/>
<rect x="983" y="311" width="3" height="9" fill="#000"/>
<rect x="984" y="312" width="1" height="7" fill="#fff"/>
<rect x="988" y="255" width="1" height="58" fill="#000"/>
<rect x="987" y="258" width="3" height="53" fill="#000"/>
<rect x="988" y="259" width="1" height="51" fill="#fff"/>
<rect x="993" y="159" width="1" height="104" fill="#000"/>
<rect x="992" y="160" width="3" height="99" fill="#000"/>
<rect x="993" y="161" width="1" height="97" fill="#fff"/>
<rect x="998" y="133" width="1" height="53" fill="#000"/>
<rect x="997" y="136" width="3" height="24" fill="#000"/>
<rect x="998" y="137" width="1" height="22" fill="#fff"/>
<rect x="1003" y="131" width="1" height="42" fill="#000"/>
<rect x="1002" y="136" width="3" height="12" fill="#000"/>
<rect x="1007" y="60" width="1" height="99" fill="#000"/>
<rect x="1006" y="107" width="3" height="41" fill="#000"/>
<rect x="1007" y="108" width="1" height="39" fill="#fff"/>
<rect x="1012" y="105" width="1" height="18" fill="#000"/>
<rect x="1011" y="107" width="3" height="10" fill="#000"/>
<rect x="1017" y="86" width="1" height="92" fill="#000"/>
<rect x="1016" y="116" width="3" height="50" fill="#000"/>
<rect x="1022" y="163" width="1" height="25" fill="#000"/>
<rect x="1021" y="165" width="3" height="12" fill="#000"/>
<rect x="1026" y="120" width="1" height="57" fill="#000"/>
<rect x="1025" y="146" width="3" height="31" fill="#000"/>
<rect x="1026" y="147" width="1" height="29" fill="#fff"/>
<rect x="1031" y="131" width="1" height="20" fill="#000"/>
<rect x="1030" y="136" width="3" height="10" fill="#000"/>
<rect x="1031" y="137" width="1" height="8" fill="#fff"/>
<rect x="1036" y="117" width="1" height="24" fill="#000"/>
<rect x="1035" y="121" width="3" height="15" fill="#000"/>
<rect x="1036" y="122" width="1" height="13" fill="#fff"/>
<rect x="1041" y="107" width="1" height="16" fill="#000"/>
<rect x="1040" y="112" width="3" height="10" fill="#000"/>
<rect x="1041" y="113" width="1" height="8" fill="#fff"/>
<rect x="1046" y="98" width="1" height="52" fill="#000"/>
<rect x="1045" y="112" width="3" height="24" fill="#000"/>
<rect x="1050" y="130" width="1" height="27" fill="#000"/>
<rect x="1049" y="136" width="3" height="20" fill="#000"/>
<rect x="1055" y="119" width="1" height="37" fill="#000"/>
<rect x="1054" y="129" width="3" height="27" fill="#000"/>
<rect x="1055" y="130" width="1" height="25" fill="#fff"/>
<rect x="1060" y="94" width="1" height="57" fill="#000"/>
<rect x="1059" y="104" width="3" height="26" fill="#000"/>
<rect x="1060" y="105" width="1" height="24" fill="#fff"/>
<rect x="1065" y="104" width="1" height="30" fill="#000"/>
<rect x="1064" y="104" width="3" height="22" fill="#000"/>
<rect x="1069" y="118" width="1" height="18" fill="#000"/>
<rect x="1068" y="125" width="3" height="8" fill="#000"/>
<rect x="1074" y="125" width="1" height="35" fill="#000"/>
<rect x="1073" y="132" width="3" height="28" fill="#000"/>
<rect x="1079" y="140" width="1" height="53" fill="#000"/>
<rect x="1078" y="159" width="3" height="32" fill="#000"/>
<rect x="1084" y="151" width="1" height="57" fill="#000"/>
<rect x="1083" y="179" width="3" height="12" fill="#000"/>
<rect x="1084" y="180" width="1" height="10" fill="#fff"/>
<rect x="1088" y="176" width="1" height="18" fill="#000"/>
<rect x="1087" y="179" width="3" height="8" fill="#000"/>
<rect x="1093" y="163" width="1" height="25" fill="#000"/>
<rect x="1092" y="177" width="3" height="10" fill="#000"/>
<rect x="1093" y="178" width="1" height="8" fill="#fff"/>
<rect x="1098" y="174" width="1" height="14" fill="#000"/>
<rect x="1097" y="177" width="3" height="1" fill="#000"/>
<rect x="1103" y="167" width="1" height="43" fill="#000"/>
<rect x="1102" y="177" width="3" height="27" fill="#000"/>
<rect x="1107" y="197" width="1" height="31" fill="#000"/>
<rect x="1106" y="203" width="3" height="17" fill="#000"/>
<rect x="1112" y="203" width="1" height="40" fill="#000"/>
<rect x="1111" y="220" width="3" height="6" fill="#000"/>
<rect x="1117" y="204" width="1" height="24" fill="#000"/>
<rect x="1116" y="209" width="3" height="17" fill="#000"/>
<rect x="1117" y="210" width="1" height="15" fill="#fff"/>
<rect x="1122" y="201" width="1" height="20" fill="#000"/>
<rect x="1121" y="209" width="3" height="1" fill="#000"/>
<rect x="1127" y="202" width="1" height="13" fill="#000"/>
<rect x="1126" y="209" width="3" height="3" fill="#000"/>
<rect x="1131" y="200" width="1" height="25" fill="#000"/>
<rect x="1130" y="211" width="3" height="3" fill="#000"/>
<rect x="1136" y="206" width="1" height="28" fill="#000"/>
<rect x="1135" y="213" width="3" height="12" fill="#000"/>
<rect x="1141" y="213" width="1" height="18" fill="#000"/>
<rect x="1140" y="220" width="3" height="5" fill="#000"/>
<rect x="1141" y="221" width="1" height="3" fill="#fff"/>
<rect x="1146" y="215" width="1" height="12" fill="#000"/>
<rect x="1145" y="220" width="3" height="1" fill="#000"/>
<rect x="1150" y="209" width="1" height="15" fill="#000"/>
<rect x="1149" y="211" width="3" height="10" fill="#000"/>
<rect x="1150" y="212" width="1" height="8" fill="#fff"/>
<rect x="1155" y="203" width="1" height="19" fill="#000"/>
<rect x="1154" y="211" width="3" height="2" fill="#000"/>
<rect x="1160" y="188" width="1" height="43" fill="#000"/>
<rect x="1159" y="192" width="3" height="20" fill="#000"/>
<rect x="1160" y="193" width="1" height="18" fill="#fff"/>
<rect x="1165" y="182" width="1" height="23" fill="#000"/>
<rect x="1164" y="192" width="3" height="10" fill="#000"/>
<rect x="1169" y="173" width="1" height="34" fill="#000"/>
<rect x="1168" y="177" width="3" height="25" fill="#000"/>
<rect x="1169" y="178" width="1" height="23" fill="#fff"/>
<rect x="1174" y="173" width="1" height="20" fill="#000"/>
<rect x="1173" y="177" width="3" height="10" fill="#000"/>
<rect x="1179" y="176" width="1" height="19" fill="#000"/>
<rect x="1178" y="187" width="3" height="7" fill="#000"/>
<rect x="1184" y="182" width="1" height="25" fill="#000"/>
<rect x="1183" y="193" width="3" height="13" fill="#000"/>
<rect x="1188" y="194" width="1" height="25" fill="#000"/>
<rect x="1187" y="195" width="3" height="10" fill="#000"/>
<rect x="1188" y="196" width="1" height="8" fill="#fff"/>
<rect x="1193" y="194" width="1" height="43" fill="#000"/>
<rect x="1192" y="195" width="3" height="33" fill="#000"/>
<rect x="1198" y="221" width="1" height="58" fill="#000"/>
<rect x="1197" y="227" width="3" height="3" fill="#000"/>
<rect x="1203" y="223" width="1" height="35" fill="#000"/>
<rect x="1202" y="229" width="3" height="27" fill="#000"/>
<rect x="1208" y="236" width="1" height="26" fill="#000"/>
<rect x="1207" y="240" width="3" height="16" fill="#000"/>
<rect x="1208" y="241" width="1" height="14" fill="#fff"/>
<rect x="1212" y="236" width="1" height="12" fill="#000"/>
<rect x="1211" y="238" width="3" height="3" fill="#000"/>
<rect x="1212" y="239" width="1" height="1" fill="#fff"/>
<rect x="1217" y="228" width="1" height="23" fill="#000"/>
<rect x="1216" y="238" width="3" height="4" fill="#000"/>
<rect x="1222" y="226" width="1" height="27" fill="#000"/>
<rect x="1221" y="241" width="3" height="1" fill="#000"/>
<rect x="1227" y="234" width="1" height="18" fill="#000"/>
<rect x="1226" y="239" width="3" height="3" fill="#000"/>
<rect x="1227" y="240" width="1" height="1" fill="#fff"/>
<rect x="1231" y="226" width="1" height="15" fill="#000"/>
<rect x="1230" y="230" width="3" height="10" fill="#000"/>
<rect x="1231" y="231" width="1" height="8" fill="#fff"/>
<rect x="1236" y="215" width="1" height="20" fill="#000"/>
<rect x="1235" y="222" width="3" height="9" fill="#000"/>
<rect x="1236" y="223" width="1" height="7" fill="#fff"/>
<rect x="1241" y="206" width="1" height="17" fill="#000"/>
<rect x="1240" y="220" width="3" height="3" fill="#000"/>
<rect x="1241" y="221" width="1" height="1" fill="#fff"/>
<rect x="1246" y="204" width="1" height="35" fill="#000"/>
<rect x="1245" y="220" width="3" height="9" fill="#000"/>
<rect x="1250" y="223" width="1" height="28" fill="#000"/>
<rect x="1249" y="228" width="3" height="8" fill="#000"/>
<rect x="1255" y="231" width="1" height="31" fill="#000"/>
<rect x="1254" y="235" width="3" height="4" fill="#000"/>
<rect x="1260" y="230" width="1" height="12" fill="#000"/>
<rect x="1259" y="231" width="3" height="8" fill="#000"/>
<rect x="1260" y="232" width="1" height="6" fill="#fff"/>
<rect x="1265" y="220" width="1" height="22" fill="#000"/>
<rect x="1264" y="231" width="3" height="3" fill="#000"/>
<rect x="1269" y="226" width="1" height="16" fill="#000"/>
<rect x="1268" y="233" width="3" height="2" fill="#000"/>
<rect x="1274" y="224" width="1" height="38" fill="#000"/>
<rect x="1273" y="234" width="3" height="1" fill="#000"/>
<rect x="1279" y="230" width="1" height="26" fill="#000"/>
<rect x="1278" y="234" width="3" height="11" fill="#000"/>
<rect x="1284" y="217" width="1" height="31" fill="#000"/>
<rect x="1283" y="227" width="3" height="18" fill="#000"/>
<rect x="1284" y="228" width="1" height="16" fill="#fff"/>
<rect x="1289" y="210" width="1" height="18" fill="#000"/>
<rect x="1288" y="223" width="3" height="5" fill="#000"/>
<rect x="1289" y="224" width="1" height="3" fill="#fff"/>
<rect x="1293" y="207" width="1" height="16" fill="#000"/>
<rect x="1292" y="211" width="3" height="12" fill="#000"/>
<rect x="1293" y="212" width="1" height="10" fill="#fff"/>
<rect x="1298" y="200" width="1" height="13" fill="#000"/>
<rect x="1297" y="201" width="3" height="11" fill="#000"/>
<rect x="1298" y="202" width="1" height="9" fill="#fff"/>
<rect x="1303" y="195" width="1" height="44" fill="#000"/>
<rect x="1302" y="201" width="3" height="22" fill="#000"/>
<rect x="1308" y="215" width="1" height="17" fill="#000"/>
<rect x="1307" y="222" width="3" height="1" fill="#000"/>
<rect x="1312" y="216" width="1" height="39" fill="#000"/>
<rect x="1311" y="223" width="3" height="26" fill="#000"/>
<rect x="1317" y="229" width="1" height="23" fill="#000"/>
<rect x="1316" y="233" width="3" height="17" fill="#000"/>
<rect x="1317" y="234" width="1" height="15" fill="#fff"/>
<rect x="1322" y="231" width="1" height="13" fill="#000"/>
<rect x="1321" y="233" width="3" height="3" fill="#000"/>
<rect x="1327" y="235" width="1" height="16" fill="#000"/>
<rect x="1326" y="236" width="3" height="11" fill="#000"/>
<rect x="1331" y="244" width="1" height="43" fill="#000"/>
<rect x="1330" y="247" width="3" height="33" fill="#000"/>
<rect x="1336" y="270" width="1" height="26" fill="#000"/>
<rect x="1335" y="278" width="3" height="2" fill="#000"/>
<rect x="1341" y="250" width="1" height="30" fill="#000"/>
<rect x="1340" y="255" width="3" height="24" fill="#000"/>
<rect x="1341" y="256" width="1" height="22" fill="#fff"/>
<rect x="1346" y="248" width="1" height="20" fill="#000"/>
<rect x="1345" y="255" width="3" height="6" fill="#000"/>
<rect x="1350" y="244" width="1" height="19" fill="#000"/>
<rect x="1349" y="254" width="3" height="9" fill="#000"/>
<rect x="1350" y="255" width="1" height="7" fill="#fff"/>
<rect x="1355" y="245" width="1" height="11" fill="#000"/>
<rect x="1354" y="248" width="3" height="7" fill="#000"/>
<rect x="1355" y="249" width="1" height="5" fill="#fff"/>
<rect x="1360" y="245" width="1" height="10" fill="#000"/>
<rect x="1359" y="248" width="3" height="1" fill="#000"/>
</g>
<polyline fill="none" stroke="#911b9c" stroke-width="1.1" stroke-linejoin="round"  points="7.5,675.5 12.5,674.3 16.5,684.6 21.5,723.7 26.5,706.2 31.5,713.9 36.5,718.9 40.5,723.0 45.5,718.2 50.5,692.3 55.5,703.3 59.5,738.6 64.5,730.2 69.5,731.6 74.5,731.9 78.5,724.4 83.5,727.8 88.5,726.8 93.5,718.7 97.5,714.6 102.5,704.3 107.5,711.0 112.5,720.6 117.5,731.4 121.5,708.6 126.5,704.5 131.5,702.8 136.5,740.5 140.5,722.5 145.5,719.9 150.5,706.2 155.5,705.0 159.5,690.1 164.5,672.6 169.5,651.0 174.5,646.2 178.5,637.8 183.5,673.8 188.5,710.3 193.5,718.7 198.5,713.4 202.5,719.4 207.5,718.2 212.5,713.4 217.5,754.2 221.5,747.7 226.5,761.9 231.5,762.4 236.5,769.1 240.5,751.3 245.5,782.3 250.5,760.2 255.5,705.7 259.5,696.6 264.5,725.4 269.5,751.3 274.5,720.1 278.5,732.1 283.5,774.6 288.5,778.9 293.5,755.4 298.5,754.9 302.5,717.5 307.5,716.5 312.5,716.0 317.5,708.6 321.5,728.3 326.5,727.8 331.5,706.9 336.5,697.3 340.5,680.3 345.5,681.5 350.5,685.1 355.5,694.9 359.5,691.1 364.5,676.2 369.5,665.9 374.5,670.4 379.5,662.5 383.5,651.0 388.5,644.5 393.5,661.1 398.5,649.1 402.5,648.1 407.5,647.2 412.5,646.2 417.5,637.3 421.5,663.5 426.5,660.1 431.5,699.5 436.5,690.1 440.5,685.1 445.5,691.3 450.5,697.8 455.5,672.6 460.5,666.6 464.5,673.1 469.5,654.6 474.5,657.0 479.5,666.6 483.5,687.5 488.5,681.0 493.5,697.8 498.5,694.9 502.5,674.3 507.5,696.6 512.5,688.2 517.5,679.8 521.5,670.2 526.5,679.3 531.5,739.3 536.5,729.5 541.5,751.8 545.5,721.8 550.5,713.9 555.5,739.3 560.5,722.5 564.5,728.5 569.5,751.3 574.5,760.9 579.5,763.8 583.5,762.1 588.5,734.3 593.5,760.7 598.5,735.5 602.5,729.7 607.5,733.1 612.5,730.2 617.5,699.5 622.5,727.3 626.5,707.6 631.5,709.1 636.5,718.9 641.5,704.5 645.5,718.2 650.5,720.1 655.5,729.0 660.5,727.3 664.5,739.8 669.5,745.8 674.5,695.4 679.5,727.3 683.5,748.2 688.5,754.7 693.5,795.5 698.5,774.1 703.5,801.0 707.5,815.4 712.5,760.2 717.5,768.1 722.5,766.7 726.5,780.6 731.5,759.5 736.5,751.3 741.5,747.0 745.5,745.1 750.5,756.1 755.5,751.3 760.5,741.5 764.5,740.3 769.5,708.6 774.5,701.4 779.5,701.4 784.5,693.5 788.5,717.5 793.5,715.3 798.5,709.6 803.5,717.5 807.5,697.8 812.5,691.3 817.5,687.0 822.5,683.4 826.5,688.2 831.5,692.8 836.5,681.7 841.5,671.4 845.5,628.2 850.5,653.4 855.5,700.2 860.5,697.8 865.5,700.7 869.5,691.8 874.5,683.4 879.5,713.4 884.5,735.0 888.5,753.0 893.5,756.1 898.5,756.6 903.5,787.8 907.5,770.3 912.5,769.1 917.5,760.4 922.5,760.4 926.5,750.6 931.5,668.5 936.5,668.5 941.5,723.5 945.5,719.9 950.5,717.0 955.5,722.3 960.5,699.2 965.5,721.3 969.5,693.0 974.5,694.2 979.5,697.3 984.5,692.3 988.5,664.2 993.5,630.1 998.5,624.6 1003.5,632.5 1007.5,622.2 1012.5,630.6 1017.5,667.8 1022.5,675.5 1026.5,664.2 1031.5,660.1 1036.5,654.6 1041.5,651.5 1046.5,669.7 1050.5,686.3 1055.5,675.0 1060.5,663.5 1065.5,679.8 1069.5,685.8 1074.5,706.2 1079.5,727.3 1084.5,720.1 1088.5,725.4 1093.5,718.9 1098.5,718.9 1103.5,738.6 1107.5,751.1 1112.5,754.2 1117.5,739.8 1122.5,739.8 1127.5,742.2 1131.5,744.1 1136.5,753.5 1141.5,748.7 1146.5,749.9 1150.5,738.1 1155.5,739.1 1160.5,715.8 1165.5,726.1 1169.5,700.9 1174.5,712.9 1179.5,720.6 1184.5,733.8 1188.5,723.5 1193.5,757.1 1198.5,759.7 1203.5,781.1 1208.5,762.1 1212.5,759.7 1217.5,763.3 1222.5,762.8 1227.5,759.7 1231.5,745.8 1236.5,733.3 1241.5,731.4 1246.5,743.4 1250.5,752.5 1255.5,755.4 1260.5,743.9 1265.5,746.5 1269.5,749.4 1274.5,748.7 1279.5,765.5 1284.5,731.4 1289.5,724.2 1293.5,705.0 1298.5,689.9 1303.5,727.1 1308.5,729.7 1312.5,766.2 1317.5,740.3 1322.5,744.6 1327.5,759.0 1331.5,792.6 1336.5,790.7 1341.5,753.5 1346.5,761.4 1350.5,749.9 1355.5,739.8 1360.5,741.2"/>
<rect x="0" y="0" width="6" height="875" fill="#fff"/>
<g shape-rendering="crispEdges" fill="#4d505c">
<rect x="6" y="4" width="1548" height="1"/>
<rect x="6" y="854" width="1548" height="1"/>
<rect x="6" y="4" width="1" height="851"/>
<rect x="1553" y="4" width="1" height="851"/>
<rect x="1493" y="4" width="1" height="851"/>
<rect x="6" y="610" width="1548" height="1"/>
<rect x="6" y="827" width="1548" height="1"/>
<rect x="1494" y="30" width="4" height="1"/>
<rect x="1494" y="61" width="4" height="1"/>
<rect x="1494" y="91" width="4" height="1"/>
<rect x="1494" y="122" width="4" height="1"/>
<rect x="1494" y="152" width="4" height="1"/>
<rect x="1494" y="182" width="4" height="1"/>
<rect x="1494" y="213" width="4" height="1"/>
<rect x="1494" y="243" width="4" height="1"/>
<rect x="1494" y="274" width="4" height="1"/>
<rect x="1494" y="304" width="4" height="1"/>
<rect x="1494" y="335" width="4" height="1"/>
<rect x="1494" y="365" width="4" height="1"/>
<rect x="1494" y="395" width="4" height="1"/>
<rect x="1494" y="426" width="4" height="1"/>
<rect x="1494" y="456" width="4" height="1"/>
<rect x="1494" y="487" width="4" height="1"/>
<rect x="1494" y="517" width="4" height="1"/>
<rect x="1494" y="548" width="4" height="1"/>
<rect x="1494" y="578" width="4" height="1"/>
<rect x="1494" y="608" width="4" height="1"/>
<rect x="1494" y="649" width="4" height="1"/>
<rect x="1494" y="689" width="4" height="1"/>
<rect x="1494" y="729" width="4" height="1"/>
<rect x="1494" y="768" width="4" height="1"/>
<rect x="1494" y="808" width="4" height="1"/>
<rect x="126" y="828" width="1" height="3"/>
<rect x="212" y="828" width="1" height="3"/>
<rect x="298" y="828" width="1" height="3"/>
<rect x="412" y="828" width="1" height="3"/>
<rect x="555" y="828" width="1" height="3"/>
<rect x="698" y="828" width="1" height="3"/>
<rect x="812" y="828" width="1" height="3"/>
<rect x="922" y="828" width="1" height="3"/>
<rect x="1069" y="828" width="1" height="3"/>
<rect x="1212" y="828" width="1" height="3"/>
<rect x="1355" y="828" width="1" height="3"/>
<rect x="1441" y="828" width="1" height="3"/>
</g>
<g font-size="11.5" fill="#50535e">
<text x="1502" y="34.1" textLength="32.6" lengthAdjust="spacingAndGlyphs">7000.0</text>
<text x="1502" y="65.1" textLength="32.6" lengthAdjust="spacingAndGlyphs">6960.0</text>
<text x="1502" y="95.1" textLength="32.6" lengthAdjust="spacingAndGlyphs">6920.0</text>
<text x="1502" y="126.1" textLength="32.6" lengthAdjust="spacingAndGlyphs">6880.0</text>
<text x="1502" y="156.1" textLength="32.6" lengthAdjust="spacingAndGlyphs">6840.0</text>
<text x="1502" y="186.1" textLength="32.6" lengthAdjust="spacingAndGlyphs">6800.0</text>
<text x="1502" y="217.1" textLength="32.6" lengthAdjust="spacingAndGlyphs">6760.0</text>
<text x="1502" y="247.1" textLength="32.6" lengthAdjust="spacingAndGlyphs">6720.0</text>
<text x="1502" y="278.1" textLength="32.6" lengthAdjust="spacingAndGlyphs">6680.0</text>
<text x="1502" y="308.1" textLength="32.6" lengthAdjust="spacingAndGlyphs">6640.0</text>
<text x="1502" y="339.1" textLength="32.6" lengthAdjust="spacingAndGlyphs">6600.0</text>
<text x="1502" y="369.1" textLength="32.6" lengthAdjust="spacingAndGlyphs">6560.0</text>
<text x="1502" y="399.1" textLength="32.6" lengthAdjust="spacingAndGlyphs">6520.0</text>
<text x="1502" y="430.1" textLength="32.6" lengthAdjust="spacingAndGlyphs">6480.0</text>
<text x="1502" y="460.1" textLength="32.6" lengthAdjust="spacingAndGlyphs">6440.0</text>
<text x="1502" y="491.1" textLength="32.6" lengthAdjust="spacingAndGlyphs">6400.0</text>
<text x="1502" y="521.1" textLength="32.6" lengthAdjust="spacingAndGlyphs">6360.0</text>
<text x="1502" y="552.1" textLength="32.6" lengthAdjust="spacingAndGlyphs">6320.0</text>
<text x="1502" y="582.1" textLength="32.6" lengthAdjust="spacingAndGlyphs">6280.0</text>
<text x="1502" y="612.1" textLength="32.6" lengthAdjust="spacingAndGlyphs">6240.0</text>
<text x="1502" y="653.1" textLength="27" lengthAdjust="spacingAndGlyphs">70.00</text>
<text x="1502" y="693.1" textLength="27" lengthAdjust="spacingAndGlyphs">60.00</text>
<text x="1502" y="733.1" textLength="27" lengthAdjust="spacingAndGlyphs">50.00</text>
<text x="1502" y="772.1" textLength="27" lengthAdjust="spacingAndGlyphs">40.00</text>
<text x="1502" y="812.1" textLength="27" lengthAdjust="spacingAndGlyphs">30.00</text>
</g>
<rect x="1494" y="611" width="59" height="8" fill="#fff"/>
<g font-size="11.5" fill="#50535e" text-anchor="middle">
<text x="125.9" y="845.9" textLength="11.05" lengthAdjust="spacingAndGlyphs">23</text>
<text x="211.9" y="845.9" textLength="11.05" lengthAdjust="spacingAndGlyphs">26</text>
<text x="297.9" y="845.9" textLength="17.3" lengthAdjust="spacingAndGlyphs">Dec</text>
<text x="411.9" y="845.9" textLength="5.5" lengthAdjust="spacingAndGlyphs">7</text>
<text x="554.9" y="845.9" textLength="10.6" lengthAdjust="spacingAndGlyphs">14</text>
<text x="697.9" y="845.9" textLength="10.8" lengthAdjust="spacingAndGlyphs">21</text>
<text x="811.9" y="845.9" textLength="11.05" lengthAdjust="spacingAndGlyphs">28</text>
<text x="921.9" y="845.9" textLength="24.2" lengthAdjust="spacingAndGlyphs" font-weight="bold">2021</text>
<text x="1068.9" y="845.9" textLength="10.3" lengthAdjust="spacingAndGlyphs">11</text>
<text x="1211.9" y="845.9" textLength="11.05" lengthAdjust="spacingAndGlyphs">18</text>
<text x="1354.9" y="845.9" textLength="11.05" lengthAdjust="spacingAndGlyphs">25</text>
<text x="1440.9" y="845.9" textLength="11.05" lengthAdjust="spacingAndGlyphs">28</text>
</g>
<rect x="1493" y="52" width="50" height="17" fill="#00ff00" shape-rendering="crispEdges"/>
<rect x="1493" y="60" width="4" height="1" fill="#000" shape-rendering="crispEdges"/>
<text x="1502" y="63.8" font-size="11.5" fill="#000" textLength="32.6" lengthAdjust="spacingAndGlyphs">6960.2</text>
<rect x="1493" y="166" width="50" height="17" fill="#00ff00" shape-rendering="crispEdges"/>
<rect x="1493" y="174" width="4" height="1" fill="#000" shape-rendering="crispEdges"/>
<text x="1502" y="177.8" font-size="11.5" fill="#000" textLength="32.6" lengthAdjust="spacingAndGlyphs">6811.0</text>
<rect x="1493" y="240" width="50" height="17" fill="#000" shape-rendering="crispEdges"/>
<rect x="1493" y="248" width="4" height="1" fill="#fff" shape-rendering="crispEdges"/>
<text x="1502" y="251.8" font-size="11.5" fill="#fff" textLength="32.6" lengthAdjust="spacingAndGlyphs" font-weight="bold">6713.3</text>
<rect x="1494" y="258" width="55" height="17" fill="#000" shape-rendering="crispEdges"/>
<text x="1497.5" y="270.4" font-size="11.5" font-weight="bold" fill="#fff" textLength="43.5" lengthAdjust="spacingAndGlyphs">02:13:36</text>
<rect x="1493" y="286" width="50" height="17" fill="#0000ff" shape-rendering="crispEdges"/>
<rect x="1493" y="294" width="4" height="1" fill="#fff" shape-rendering="crispEdges"/>
<text x="1502" y="297.8" font-size="11.5" fill="#fff" textLength="32.6" lengthAdjust="spacingAndGlyphs" font-weight="bold">6653.3</text>
<rect x="1493" y="325" width="50" height="17" fill="#0000ff" shape-rendering="crispEdges"/>
<rect x="1493" y="333" width="4" height="1" fill="#fff" shape-rendering="crispEdges"/>
<text x="1502" y="336.8" font-size="11.5" fill="#fff" textLength="32.6" lengthAdjust="spacingAndGlyphs" font-weight="bold">6602.0</text>
<rect x="1509.5" y="11.5" width="27" height="18" rx="3" fill="#fff" stroke="#dfe2ea" stroke-width="1"/>
<text x="1523" y="24.4" font-size="11" fill="#50535e" text-anchor="middle" textLength="19.5" lengthAdjust="spacingAndGlyphs">GBP</text>
<rect x="14" y="14" width="114" height="13" fill="#fff"/>
<text x="15.3" y="25.7" font-size="12" font-weight="bold" fill="#444751" textLength="90.6" lengthAdjust="spacingAndGlyphs">UK 100 CFD, 4h,</text>
<text x="109.9" y="25.7" font-size="11.6" font-weight="bold" fill="#444751">ı</text>
<text x="15.3" y="43" font-size="12" fill="#50535e" textLength="100.2" lengthAdjust="spacingAndGlyphs">MA (100, close, 0)</text>
<text x="15.3" y="60.1" font-size="12" fill="#50535e" textLength="93.2" lengthAdjust="spacingAndGlyphs">MA (50, close, 0)</text>
<text x="15.3" y="631.6" font-size="12" fill="#50535e" textLength="77.3" lengthAdjust="spacingAndGlyphs">RSI (14, close)</text>
<rect x="15" y="81" width="299" height="71" fill="#18232d"/>
<polygon points="25,128 25,137.4 13,152.6 13,162 5,162 5,143 15,130.5 16.8,128" fill="#fff"/>
<filter id="rnd" x="-5%" y="-20%" width="110%" height="140%"><feGaussianBlur stdDeviation="0.9"/><feComponentTransfer><feFuncA type="linear" slope="6" intercept="-2.5"/></feComponentTransfer></filter>
<g filter="url(#rnd)" font-size="47.1">
<text x="30.7 65.2 79.0 107.9" y="132" fill="#fff">CITY</text>
<text x="152.95 166.7 203.4 237.8 268.6" y="132" fill="#fdf016">INDEX</text>
</g>
<clipPath id="f0"><circle cx="1393.6" cy="596" r="8.2"/></clipPath>
<g clip-path="url(#f0)">
<rect x="1385.3999999999999" y="587.8" width="16.4" height="16.4" fill="#4257b8"/>
<path d="M1385.3999999999999 587.8L1401.8 604.2M1401.8 587.8L1385.3999999999999 604.2" stroke="#fff" stroke-width="2.8"/>
<path d="M1385.3999999999999 587.8L1401.8 604.2M1401.8 587.8L1385.3999999999999 604.2" stroke="#ee5f72" stroke-width="0.9"/>
<path d="M1393.6 587.8V604.2M1385.3999999999999 596H1401.8" stroke="#fff" stroke-width="4"/>
<path d="M1393.6 587.8V604.2M1385.3999999999999 596H1401.8" stroke="#ee5f72" stroke-width="2.1"/>
</g>
<clipPath id="f1"><circle cx="1389.3" cy="596" r="8.2"/></clipPath>
<g clip-path="url(#f1)">
<rect x="1381.1" y="587.8" width="16.4" height="16.4" fill="#4257b8"/>
<path d="M1381.1 587.8L1397.5 604.2M1397.5 587.8L1381.1 604.2" stroke="#fff" stroke-width="2.8"/>
<path d="M1381.1 587.8L1397.5 604.2M1397.5 587.8L1381.1 604.2" stroke="#ee5f72" stroke-width="0.9"/>
<path d="M1389.3 587.8V604.2M1381.1 596H1397.5" stroke="#fff" stroke-width="4"/>
<path d="M1389.3 587.8V604.2M1381.1 596H1397.5" stroke="#ee5f72" stroke-width="2.1"/>
</g>
<path d="M1403.56 592.17A10.6 10.6 0 1 1 1384.92 589.72" fill="none" stroke="#ff9f2e" stroke-width="1.5" stroke-linecap="round"/>
<path d="M1400.11 598.72A11.3 11.3 0 1 1 1393.06 585.18" fill="none" stroke="#f7525f" stroke-width="1.9" stroke-linecap="round"/>
<circle cx="1398" cy="587.6" r="5.2" fill="#fff"/>
<text x="1394.9" y="592" font-size="11" fill="#222">5</text>
<clipPath id="f2"><circle cx="1474.1" cy="596" r="8.2"/></clipPath>
<g clip-path="url(#f2)">
<rect x="1465.8999999999999" y="587.8" width="16.4" height="16.4" fill="#4257b8"/>
<path d="M1465.8999999999999 587.8L1482.3 604.2M1482.3 587.8L1465.8999999999999 604.2" stroke="#fff" stroke-width="2.8"/>
<path d="M1465.8999999999999 587.8L1482.3 604.2M1482.3 587.8L1465.8999999999999 604.2" stroke="#ee5f72" stroke-width="0.9"/>
<path d="M1474.1 587.8V604.2M1465.8999999999999 596H1482.3" stroke="#fff" stroke-width="4"/>
<path d="M1474.1 587.8V604.2M1465.8999999999999 596H1482.3" stroke="#ee5f72" stroke-width="2.1"/>
</g>
<path d="M1485.20 595.80A11.2 11.2 0 1 1 1476.90 584.98" fill="none" stroke="#ff9f2e" stroke-width="1.8" stroke-linecap="round"/>
<circle cx="1483.6" cy="587.6" r="5.2" fill="#fff"/>
<text x="1480.7" y="592" font-size="11" fill="#222">2</text>
<g fill="#2196f3"><circle cx="16.9" cy="871" r="6.2"/><circle cx="9.5" cy="874.5" r="4"/><circle cx="25.5" cy="873.5" r="4.6"/><rect x="9" y="872" width="18" height="4"/></g>
<g stroke="#fff" stroke-width="1" fill="none"><path d="M9.5 876.5L15.8 871L21.5 875.5L28 869.5"/></g><circle cx="15.8" cy="870.8" r="1.7" fill="#fff"/>
<text x="33.8" y="878.2" font-size="14" fill="#131722" textLength="71.2" lengthAdjust="spacingAndGlyphs">TradingView</text>
</svg>
</body></html>
